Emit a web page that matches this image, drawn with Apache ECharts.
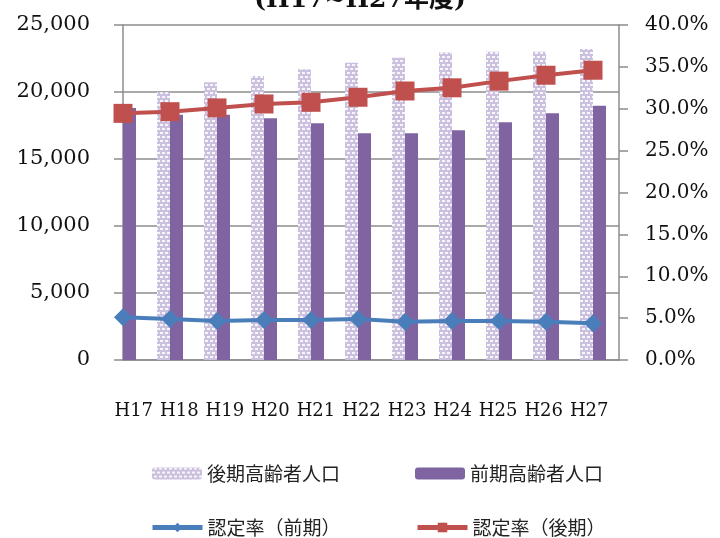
<!DOCTYPE html>
<html>
<head>
<meta charset="utf-8">
<script src="https://cdn.jsdelivr.net/npm/echarts@6/dist/echarts.min.js"></script>
<style>
  html, body { margin: 0; padding: 0; background: #fff; }
  #main { width: 720px; height: 538px; }
</style>
</head>
<body>
<div id="main"></div>
<script>
// 年度
var years = ['H17', 'H18', 'H19', 'H20', 'H21', 'H22', 'H23', 'H24', 'H25', 'H26', 'H27']
// 後期高齢者人口 / 前期高齢者人口（人）  ※H17の後期は図に表示されていない
var kouki = [null, 19980, 20720, 21200, 21690, 22190, 22560, 22940, 23010, 23010, 23210]
var zenki = [18800, 18300, 18300, 18040, 17660, 16920, 16920, 17140, 17740, 18410, 18980]
// 認定率（前期）/ 認定率（後期）
var rateZenki = [0.051, 0.049, 0.0466, 0.0478, 0.0478, 0.049, 0.0458, 0.0466, 0.0466, 0.0458, 0.0438]
var rateKouki = [0.2945, 0.2965, 0.301, 0.3057, 0.3077, 0.3137, 0.3212, 0.325, 0.333, 0.340, 0.346]
// 軸目盛
var leftMax = 25000
var leftStep = 5000
var rightMax = 0.4
var rightStep = 0.05

var serif = "'DejaVu Serif', 'Liberation Serif', serif"
var jp = "'Noto Sans CJK JP', sans-serif"
var gridColor = '#8c8c8c'

function pair (arr) {
  return arr.map(function (v, i) { return [i, v] })
}

function commas (v) {
  return String(v).replace(/\B(?=(\d{3})+(?!\d))/g, ',')
}

var chart = echarts.init(document.getElementById('main'))

var legendBase = {
  itemWidth: 50,
  itemHeight: 12,
  itemGap: 6,
  textStyle: { fontFamily: jp, fontSize: 19, color: '#222' }
}

var option = {
  animation: false,
  backgroundColor: '#fff',
  graphic: [{
    type: 'text',
    x: 360,
    y: 13,
    style: {
      text: '(H17~H27年度)',
      textAlign: 'center',
      textVerticalAlign: 'bottom',
      font: "bold 25px 'DejaVu Serif', 'Noto Sans CJK JP', serif",
      fill: '#111'
    }
  }],
  legend: [
    Object.assign({ data: ['後期高齢者人口'], left: 147, top: 459 }, legendBase),
    Object.assign({ data: ['前期高齢者人口'], left: 410, top: 459 }, legendBase),
    Object.assign({ data: ['認定率（前期）'], left: 145, top: 513, lineStyle: { width: 5 } }, legendBase),
    Object.assign({ data: ['認定率（後期）'], left: 410, top: 513, lineStyle: { width: 5 } }, legendBase)
  ],
  grid: [
    { left: 123, right: 101, top: 25, bottom: 178 },
    { left: 111, right: 108, top: 25, bottom: 178 }
  ],
  xAxis: [{
    type: 'value',
    gridIndex: 0,
    min: 0,
    max: 10.553,
    axisLine: { show: true, lineStyle: { color: gridColor, width: 1.5 } },
    axisTick: { show: false },
    axisLabel: { show: false },
    splitLine: { show: false }
  }, {
    type: 'category',
    gridIndex: 1,
    data: years,
    axisLine: { show: false },
    axisTick: { show: false },
    axisLabel: { interval: 0, margin: 42, fontFamily: serif, fontSize: 18, color: '#111' }
  }],
  yAxis: [{
    type: 'value',
    gridIndex: 0,
    min: 0,
    max: leftMax,
    interval: leftStep,
    axisLine: { show: true, lineStyle: { color: gridColor, width: 1.5 } },
    axisTick: { show: true, length: 9, lineStyle: { color: gridColor, width: 1.5 } },
    axisLabel: {
      margin: 33,
      fontFamily: serif,
      fontSize: 21,
      color: '#111',
      formatter: commas
    },
    splitLine: { show: true, lineStyle: { color: gridColor, width: 1.5 } }
  }, {
    type: 'value',
    gridIndex: 0,
    position: 'right',
    min: 0,
    max: rightMax,
    interval: rightStep,
    axisLine: { show: true, lineStyle: { color: gridColor, width: 1.5 } },
    axisTick: { show: true, length: 9, lineStyle: { color: gridColor, width: 1.5 } },
    axisLabel: {
      margin: 26,
      fontFamily: serif,
      fontSize: 20,
      color: '#111',
      formatter: function (v) { return (v * 100).toFixed(1) + '%' }
    },
    splitLine: { show: false }
  }, {
    type: 'value',
    gridIndex: 1,
    show: false
  }],
  series: [{
    name: '後期高齢者人口',
    type: 'bar',
    xAxisIndex: 0,
    yAxisIndex: 0,
    barWidth: 13,
    barGap: '0%',
    data: pair(kouki),
    itemStyle: {
      color: '#cbc0dd',
      decal: {
        symbol: 'rect',
        symbolSize: 1,
        color: 'rgba(255,255,255,0.85)',
        dashArrayX: [[3, 2], [0, 2, 3, 0]],
        dashArrayY: [2, 2],
        rotation: 0
      }
    }
  }, {
    name: '前期高齢者人口',
    type: 'bar',
    xAxisIndex: 0,
    yAxisIndex: 0,
    barWidth: 13,
    barGap: '0%',
    data: pair(zenki),
    itemStyle: { color: '#8064a2' }
  }, {
    name: '認定率（前期）',
    type: 'line',
    xAxisIndex: 0,
    yAxisIndex: 1,
    data: pair(rateZenki),
    symbol: 'diamond',
    symbolSize: 18,
    lineStyle: { color: '#4a7ebb', width: 4 },
    itemStyle: { color: '#4a7ebb' },
    z: 5
  }, {
    name: '認定率（後期）',
    type: 'line',
    xAxisIndex: 0,
    yAxisIndex: 1,
    data: pair(rateKouki),
    symbol: 'rect',
    symbolSize: 19,
    lineStyle: { color: '#c0504d', width: 4 },
    itemStyle: { color: '#c0504d' },
    z: 6
  }]
}

chart.setOption(option)
</script>
</body>
</html>
